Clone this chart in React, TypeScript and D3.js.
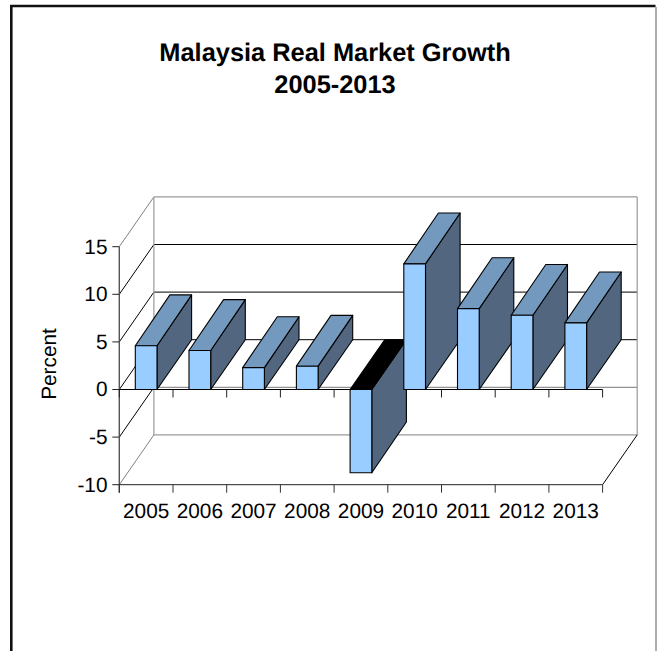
import React from "react";
import * as d3 from "d3";

const categories = ["2005", "2006", "2007", "2008", "2009", "2010", "2011", "2012", "2013"];
const growth = [4.6, 4.1, 2.3, 2.45, -8.75, 13.2, 8.5, 7.8, 7.0];
const yTicks = [-10, -5, 0, 5, 10, 15];

const W = 657, H = 651;
const DX = 34.6, DY = -49.8, DY_END = -50.8;
const x = d3.scaleBand<string>().domain(categories).range([119.3, 602.6]).paddingInner(0.596).paddingOuter(0.298);
const y = d3.scaleLinear().domain([-10, 15]).range([484.7, 246.7]);
const edges = [...categories.map((c) => (x(c) as number) - x.step() * 0.298), 602.6];
const FONT = "'Liberation Sans', Arial, sans-serif";
const poly = (pts: [number, number][]) => pts.map((p) => p.join(",")).join(" ");

export default function App() {
  const y0 = y(0);
  const L = x.range()[0], R = x.range()[1];
  return (
    <svg width={W} height={H} style={{ position: "absolute", left: 0, top: 0 }} fontFamily={FONT} textRendering="geometricPrecision">
      <rect width={W} height={H} fill="#fff" />
      <path d={`M11.3 ${H}V6H655.5`} fill="none" stroke="#111" strokeWidth={2.6} />
      <path d={`M656 7V${H}`} fill="none" stroke="#999" strokeWidth={1.6} />
      <text x={335} y={61} textAnchor="middle" fontSize={25.4} fontWeight="bold">Malaysia Real Market Growth</text>
      <text x={335} y={93} textAnchor="middle" fontSize={25.4} fontWeight="bold">2005-2013</text>

      {yTicks.map((t) => {
        const yy = y(t) + DY;
        const edge = t === 15 || t === -10;
        return (
          <g key={t}>
            <line x1={L + DX} x2={R + DX} y1={yy} y2={yy} stroke={edge ? "#808080" : t === -5 ? "#777" : "#000"} strokeWidth={1} />
            <line x1={L} x2={L + DX} y1={y(t)} y2={yy} stroke={edge ? "#808080" : "#000"} strokeWidth={1} />
          </g>
        );
      })}
      <line x1={L + DX} x2={L + DX} y1={y(15) + DY} y2={y(-10) + DY} stroke="#999" strokeWidth={1.2} />
      <line x1={R + DX} x2={R + DX} y1={y(15) + DY} y2={y(-10) + DY} stroke="#999" strokeWidth={1.2} />
      <line x1={R} x2={R + DX} y1={y(-10)} y2={y(-10) + DY} stroke="#000" strokeWidth={1} />

      <line x1={L} x2={L} y1={y(15)} y2={y(-10) + 8} stroke="#555" strokeWidth={1.4} />
      <line x1={L} x2={R} y1={y(-10)} y2={y(-10)} stroke="#222" strokeWidth={1} />
      {yTicks.map((t) => (
        <g key={t}>
          <line x1={L - 7} x2={L} y1={y(t)} y2={y(t)} stroke="#222" strokeWidth={1} />
          <text x={107.5} y={y(t)} dy="0.33em" textAnchor="end" fontSize={20.8}>{t}</text>
        </g>
      ))}
      {edges.map((e, i) => (
        <g key={i}>
          <line x1={e} x2={e} y1={y(-10)} y2={y(-10) + 8} stroke="#333" strokeWidth={1} />
          <line x1={e} x2={e} y1={y0} y2={y0 + 8} stroke="#222" strokeWidth={1} />
        </g>
      ))}
      {categories.map((c) => (
        <text key={c} x={(x(c) as number) + x.bandwidth() / 2} y={517.5} textAnchor="middle" fontSize={20.8}>{c}</text>
      ))}
      <line x1={L} x2={R} y1={y0} y2={y0} stroke="#000" strokeWidth={1} />

      {categories.map((c, i) => {
        const v = growth[i];
        const a = x(c) as number, b = a + x.bandwidth();
        const yv = y(v);
        const top = Math.min(yv, y0), bot = Math.max(yv, y0);
        const topBack = top + (v < 0 ? DY : DY_END);
        const botBack = bot + (v < 0 ? DY_END : DY);
        const p = { stroke: "#000", strokeWidth: 1.1, strokeLinejoin: "round" as const };
        return (
          <g key={c}>
            <polygon points={poly([[b, top], [b + DX, topBack], [b + DX, botBack], [b, bot]])} fill="#52667F" {...p} />
            <polygon points={poly([[a, top], [a + DX, topBack], [b + DX, topBack], [b, top]])} fill={v < 0 ? "#000" : "#7399BF"} {...p} />
            <rect x={a} y={top} width={b - a} height={bot - top} fill="#99CCFF" {...p} />
          </g>
        );
      })}

      <text transform={`translate(55.5,364) rotate(-90)`} textAnchor="middle" fontSize={20.8}>Percent</text>
    </svg>
  );
}
